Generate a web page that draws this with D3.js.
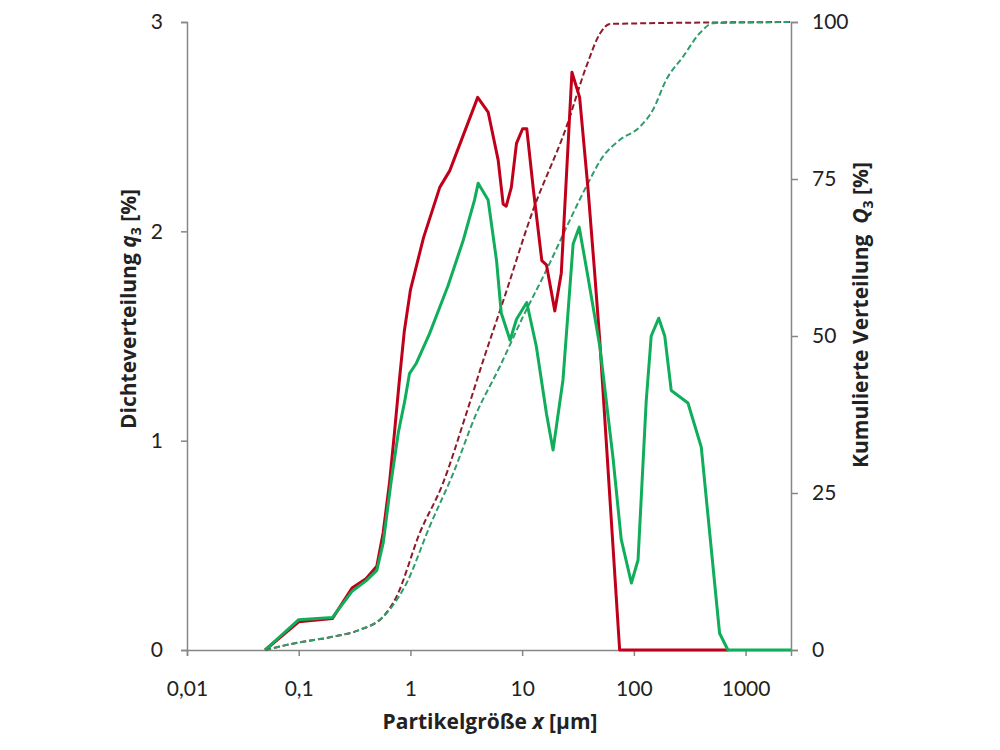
<!DOCTYPE html>
<html>
<head>
<meta charset="utf-8">
<script src="https://cdn.jsdelivr.net/npm/d3@7"></script>
<style>
  body { margin: 0; background: #fff; }
  .tick text { font-family: Lato, "Open Sans", sans-serif; font-size: 21px; fill: #222; }
  .axis path, .axis line { stroke: #868686; stroke-width: 1.5; }
  .title { font-family: "Open Sans", Lato, sans-serif; font-size: 21px; font-weight: bold; fill: #222; }
</style>
</head>
<body>
<div id="chart"></div>
<script>
// Tick values
var xTicks = [0.01, 0.1, 1, 10, 100, 1000];
var leftTicks = [0, 1, 2, 3];
var rightTicks = [0, 25, 50, 75, 100];

// Density q3, red sample
var redX = [0.05, 0.1, 0.2, 0.3, 0.4, 0.5, 0.57, 0.65, 0.72, 0.8, 0.88, 1.0, 1.31, 1.83, 2.25, 4.0, 4.96, 6.1, 6.76, 7.2, 8.0, 8.9, 10.1, 11.0, 12.6, 15.0, 16.5, 19.6, 22.4, 27.9, 32.7, 38.9, 44.6, 49.5, 74.6, 700];
var redQ = [0, 0.135, 0.15, 0.296, 0.34, 0.40, 0.56, 0.80, 1.04, 1.3, 1.52, 1.72, 1.97, 2.21, 2.29, 2.64, 2.57, 2.34, 2.13, 2.12, 2.21, 2.42, 2.49, 2.49, 2.20, 1.86, 1.84, 1.62, 1.80, 2.76, 2.64, 2.20, 1.80, 1.48, 0, 0];

// Density q3, green sample
var greenX = [0.05, 0.1, 0.2, 0.3, 0.4, 0.5, 0.57, 0.67, 0.78, 0.89, 0.98, 1.13, 1.48, 2.17, 2.98, 3.75, 4.04, 4.96, 5.9, 6.5, 7.8, 8.9, 11.0, 13.4, 16.5, 18.9, 23.2, 28.6, 32.4, 38.9, 49.6, 65, 77, 95, 109, 129, 143, 167, 189, 216, 257, 305, 401, 585, 695, 2550];
var greenQ = [0, 0.145, 0.155, 0.28, 0.33, 0.38, 0.51, 0.80, 1.04, 1.19, 1.32, 1.37, 1.51, 1.74, 1.96, 2.15, 2.23, 2.15, 1.86, 1.61, 1.48, 1.58, 1.66, 1.45, 1.13, 0.955, 1.29, 1.94, 2.02, 1.78, 1.45, 0.92, 0.53, 0.32, 0.43, 1.19, 1.50, 1.585, 1.50, 1.24, 1.21, 1.18, 0.97, 0.08, 0, 0];

// Cumulative Q3, red sample
var redCumX = [0.05, 0.1, 0.2, 0.35, 0.57, 0.75, 1.21, 1.95, 3.17, 4.5, 6.8, 12.5, 24.9, 37.5, 49.9, 61, 2550];
var redCum = [0, 1.2, 2.1, 3.2, 5.3, 8.5, 18.6, 26.5, 37.7, 46.2, 55.7, 70, 83.3, 92.9, 98.2, 99.7, 100];

// Cumulative Q3, green sample
var greenCumX = [0.05, 0.1, 0.2, 0.35, 0.57, 0.92, 1.48, 2.41, 3.9, 6.3, 10.2, 16.5, 26.8, 37.5, 53, 74.6, 113, 148, 195, 276, 388, 511, 2550];
var greenCum = [0, 1.2, 2.1, 3.2, 5.3, 10.6, 19.6, 28.1, 37.7, 45.1, 53.1, 60.5, 68.5, 73.8, 78.6, 81.2, 83.3, 86, 90.8, 94.5, 98.2, 99.8, 100];

var svgWidth = 1000, svgHeight = 750;
var margin = { top: 22, right: 209, bottom: 100, left: 187 };
var width = svgWidth - margin.left - margin.right;
var height = svgHeight - margin.top - margin.bottom;

var svg = d3.select("#chart").append("svg")
    .attr("width", svgWidth)
    .attr("height", svgHeight);

var chartGroup = svg.append("g")
    .attr("transform", `translate(${margin.left}, ${margin.top})`);

// Scales
var xScale = d3.scaleLog().domain([0.01, 2550]).range([0, width]);
var yLeft = d3.scaleLinear().domain([0, 3]).range([height, 0]);
var yRight = d3.scaleLinear().domain([0, 100]).range([height, 0]);

var fmt = d => String(d).replace(".", ",");

// Axes
chartGroup.append("g")
    .attr("class", "axis")
    .attr("transform", `translate(0, ${height})`)
    .call(d3.axisBottom(xScale).tickValues(xTicks).tickFormat(fmt).tickSizeOuter(0).tickSize(6).tickPadding(25));

chartGroup.append("g")
    .attr("class", "axis")
    .call(d3.axisLeft(yLeft).tickValues(leftTicks).tickFormat(d3.format("d")).tickSizeOuter(0).tickSize(6).tickPadding(18));

chartGroup.append("g")
    .attr("class", "axis")
    .attr("transform", `translate(${width}, 0)`)
    .call(d3.axisRight(yRight).tickValues(rightTicks).tickFormat(d3.format("d")).tickSizeOuter(0).tickSize(7).tickPadding(14));

// line generators
function makeLine(xs, ys, yScale, curve) {
    var pts = xs.map((d, i) => [d, ys[i]]);
    return d3.line()
        .x(d => xScale(d[0]))
        .y(d => yScale(d[1]))
        .curve(curve)(pts);
}

// cumulative (dashed)
chartGroup.append("path")
    .attr("d", makeLine(redCumX, redCum, yRight, d3.curveMonotoneX))
    .attr("fill", "none")
    .attr("stroke", "#8e1b2a")
    .attr("stroke-width", 2)
    .attr("stroke-dasharray", "6,3");

chartGroup.append("path")
    .attr("d", makeLine(greenCumX, greenCum, yRight, d3.curveMonotoneX))
    .attr("fill", "none")
    .attr("stroke", "#2f9d6c")
    .attr("stroke-width", 2)
    .attr("stroke-dasharray", "6,3");

// density (solid)
chartGroup.append("path")
    .attr("d", makeLine(redX, redQ, yLeft, d3.curveLinear))
    .attr("fill", "none")
    .attr("stroke", "#c0001a")
    .attr("stroke-width", 3)
    .attr("stroke-linejoin", "round");

chartGroup.append("path")
    .attr("d", makeLine(greenX, greenQ, yLeft, d3.curveLinear))
    .attr("fill", "none")
    .attr("stroke", "#10ad5a")
    .attr("stroke-width", 3)
    .attr("stroke-linejoin", "round");

// Axis titles
var xTitle = svg.append("text")
    .attr("class", "title")
    .attr("x", 490)
    .attr("y", 729)
    .attr("text-anchor", "middle");
xTitle.append("tspan").text("Partikelgröße ");
xTitle.append("tspan").attr("font-style", "italic").text("x");
xTitle.append("tspan").text(" [µm]");

var leftTitle = svg.append("text")
    .attr("class", "title")
    .attr("transform", "translate(136, 309) rotate(-90)")
    .attr("text-anchor", "middle");
leftTitle.append("tspan").text("Dichteverteilung ");
leftTitle.append("tspan").attr("font-style", "italic").text("q");
leftTitle.append("tspan").attr("font-size", "14px").attr("dy", 5).text("3");
leftTitle.append("tspan").attr("dy", -5).text(" [%]");

var rightTitle = svg.append("text")
    .attr("class", "title")
    .attr("transform", "translate(868, 315) rotate(-90)")
    .attr("text-anchor", "middle");
rightTitle.append("tspan").text("Kumulierte Verteilung\u00a0 ");
rightTitle.append("tspan").attr("font-style", "italic").text("Q");
rightTitle.append("tspan").attr("font-size", "14px").attr("dy", 5).text("3");
rightTitle.append("tspan").attr("dy", -5).text(" [%]");
</script>
</body>
</html>
